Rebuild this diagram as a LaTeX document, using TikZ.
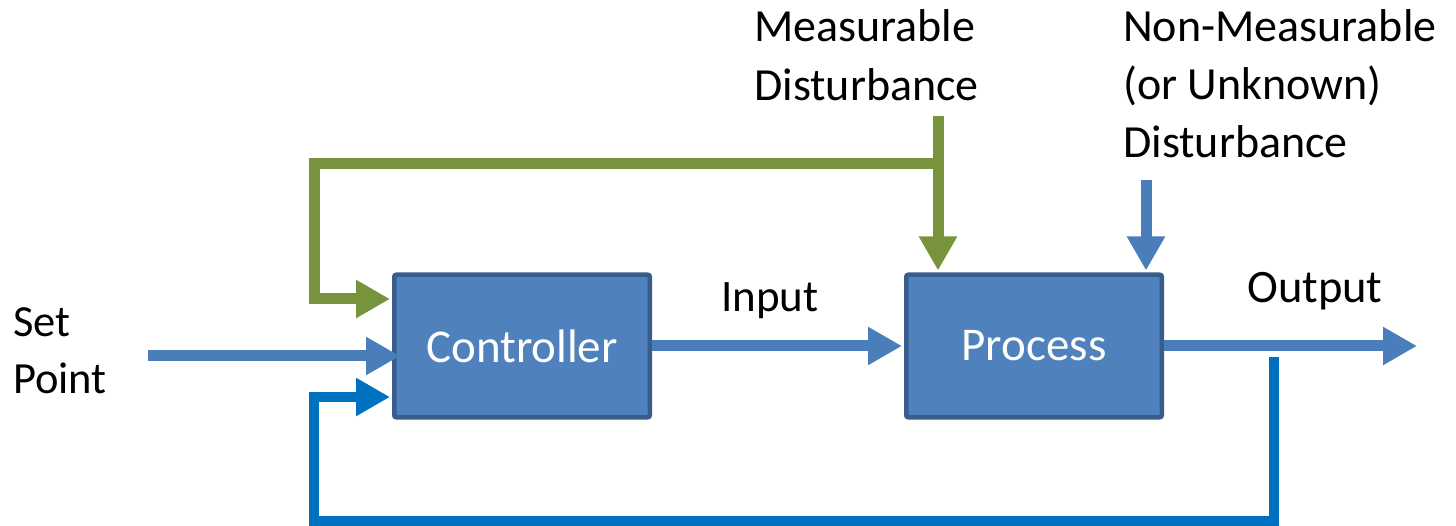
\documentclass[tikz,border=0pt]{standalone}
\usepackage{fontspec}
\setmainfont{Carlito}
\usetikzlibrary{arrows.meta}
\definecolor{boxfill}{HTML}{4F81BD}
\definecolor{boxline}{HTML}{385D8A}
\definecolor{arrowblue}{HTML}{4A7EBB}
\definecolor{fbblue}{HTML}{0070C0}
\definecolor{dgreen}{HTML}{77933C}
\begin{document}
\begin{tikzpicture}[x=1pt,y=-1pt,
  blockbox/.style={draw=boxline, fill=boxfill, line width=4.5pt, rounded corners=2pt,
    minimum width=255.5pt, minimum height=142.5pt, inner sep=0pt, text=white,
    font=\fontsize{47}{56}\selectfont},
  lbl/.style={inner sep=0pt, anchor=base west, font=\fontsize{46}{56}\selectfont},
  lblc/.style={inner sep=0pt, anchor=base, font=\fontsize{45}{56}\selectfont},
  tip/.style={-{Triangle[length=34pt,width=36pt]}},
  bluearrow/.style={draw=arrowblue, line width=11pt, tip},
  fbarrow/.style={draw=fbblue, line width=10pt, tip},
  greenarrow/.style={draw=dgreen, line width=11pt, tip}
]
\useasboundingbox (0,0) rectangle (1456,526);

% blocks
\node[blockbox] (ctrl) at (522,346) {Controller};
\node[blockbox] (proc) at (1034,346) {Process};

% labels
\node[lbl] (md1) at (754,42) {Measurable};
\node[lbl] (md2) at (754,101) {Disturbance};
\node[lbl] (nm1) at (1123,42) {Non-Measurable};
\node[lbl] (nm2) at (1123,100) {(or Unknown)};
\node[lbl] (nm3) at (1123,158) {Disturbance};
\node[lbl, font=\fontsize{44.5}{56}\selectfont] (sp1) at (13,337) {Set};
\node[lbl, font=\fontsize{44.5}{56}\selectfont] (sp2) at (13,393) {Point};
\node[lblc] (inlbl) at (770,312) {Input};
\node[lblc, font=\fontsize{46.5}{56}\selectfont] (outlbl) at (1315,303) {Output};

% coordinates
\coordinate (spstart) at (148,356);
\coordinate (outend) at (1417,348);
\coordinate (gtop) at (938,116);
\coordinate (gjoin) at (938,164);
\coordinate (gleft) at (314,164);
\coordinate (nmtop) at (1146,180);
\coordinate (fbtop) at (1274,357);
\coordinate (fbbot) at (1274,521);
\coordinate (fbleft) at (314,521);

% blue signal arrows
\draw[bluearrow, shorten >=-8pt] (spstart) -- (spstart -| ctrl.west);
\draw[bluearrow, shorten >=2pt] (ctrl.east) -- (proc.west);
\draw[bluearrow] (proc.east) -- (proc.east -| outend);
\draw[bluearrow, shorten >=2pt] (nmtop) -- (nmtop |- proc.north);

% measurable disturbance (green)
\draw[greenarrow, shorten >=2pt] (gtop) -- (gtop |- proc.north);
\draw[greenarrow, shorten >=2pt] (gjoin) -- (gleft) |- ([yshift=47pt]ctrl.west);

% feedback loop
\draw[fbarrow, shorten >=2pt] (fbtop) -- (fbbot) -- (fbleft) |- ([yshift=-51pt]ctrl.west);
\end{tikzpicture}
\end{document}
